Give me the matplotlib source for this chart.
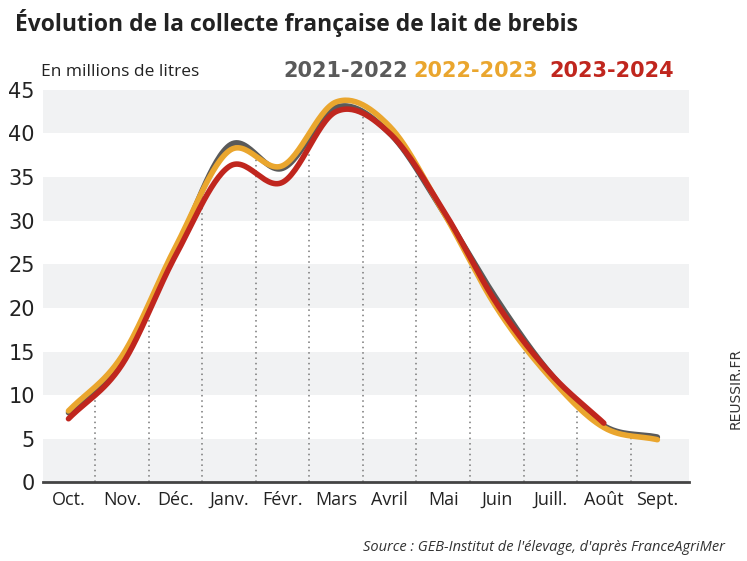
import numpy as np
import matplotlib.pyplot as plt

months = ['Oct.', 'Nov.', 'Déc.', 'Janv.', 'Févr.', 'Mars', 'Avril', 'Mai', 'Juin', 'Juill.', 'Août', 'Sept.']
s2122 = [8.0, 14.0, 26.5, 38.6, 36.0, 43.0, 40.0, 31.0, 21.0, 12.5, 6.5, 5.2]
s2223 = [8.2, 14.5, 27.0, 38.0, 36.3, 43.6, 40.8, 31.0, 20.0, 12.0, 6.3, 4.9]
s2324 = [7.3, 13.5, 26.0, 36.2, 34.4, 42.5, 40.0, 31.2, 20.5, 12.5, 6.8]
series = [(s2122, '2021-2022', '#5a5a5a'), (s2223, '2022-2023', '#eaa62e'), (s2324, '2023-2024', '#c0261e')]


def smooth(ys, n=30):
    # Catmull-Rom through the points
    p = np.array(ys, dtype=float)
    p = np.concatenate([[2 * p[0] - p[1]], p, [2 * p[-1] - p[-2]]])
    xs, out = [], []
    for i in range(1, len(p) - 2):
        t = np.linspace(0, 1, n, endpoint=False)
        p0, p1, p2, p3 = p[i - 1], p[i], p[i + 1], p[i + 2]
        y = 0.5 * (2 * p1 + (-p0 + p2) * t + (2 * p0 - 5 * p1 + 4 * p2 - p3) * t**2
                   + (-p0 + 3 * p1 - 3 * p2 + p3) * t**3)
        xs.extend(i - 1 + t)
        out.extend(y)
    xs.append(len(ys) - 1)
    out.append(ys[-1])
    return np.array(xs), np.array(out)


fig = plt.figure(figsize=(7.47, 5.61), dpi=100)
ax = fig.add_axes([0.058, 0.14, 0.865, 0.70])
ax.set_xlim(-0.47, 11.6)
ax.set_ylim(0, 45)

for lo in range(0, 45, 10):
    ax.axhspan(lo, lo + 5, color='#f1f2f3', zorder=0, lw=0)

gx, gy = smooth(s2122)
for k in range(11):
    xm = k + 0.5
    ax.plot([xm, xm], [0, np.interp(xm, gx, gy)], color='#777777', ls=(0, (1, 2.5)), lw=1.1, zorder=1)

for ys, lab, col in series:
    x, y = smooth(ys)
    ax.plot(x, y, color=col, lw=4, solid_capstyle='round', zorder=3)

for sp in ['top', 'right', 'left']:
    ax.spines[sp].set_visible(False)
ax.spines['bottom'].set_color('#444444')
ax.spines['bottom'].set_linewidth(2)
ax.set_xticks(range(12))
ax.set_xticklabels(months, fontsize=13, family='Open Sans', color='#222222')
ax.set_yticks(range(0, 46, 5))
ax.tick_params(axis='y', labelsize=15, length=0, pad=6, labelcolor='#222222')
ax.tick_params(axis='x', length=0, pad=6)

fig.text(0.02, 0.945, 'Évolution de la collecte française de lait de brebis', fontsize=16.5,
         weight='bold', color='#222222', family='Open Sans')
fig.text(0.055, 0.865, 'En millions de litres', fontsize=12.5, color='#222222', family='Open Sans')
for xpos, (ys, lab, col) in zip([0.379, 0.553, 0.736], series):
    fig.text(xpos, 0.862, lab, fontsize=15, weight='bold', color=col, family='DejaVu Sans')
fig.text(0.985, 0.24, 'REUSSIR.FR', rotation=90, fontsize=10, color='#333333', ha='center')
fig.text(0.97, 0.018, "Source : GEB-Institut de l'élevage, d'après FranceAgriMer", fontsize=10.5,
         style='italic', ha='right', color='#333333', family='Open Sans')

fig.savefig('out.png', dpi=100)
